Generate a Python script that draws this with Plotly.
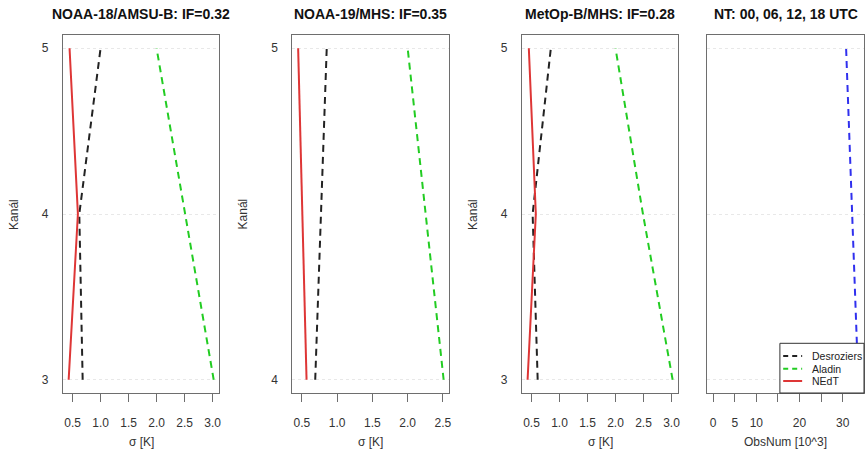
import plotly.graph_objects as go

W, H = 867, 452

# ---- data ----
titles = ["NOAA-18/AMSU-B: IF=0.32", "NOAA-19/MHS: IF=0.35", "MetOp-B/MHS: IF=0.28", "NT: 00, 06, 12, 18 UTC"]
ch_amsub = [3, 4, 5]
ch_mhs19 = [4, 5]
ch_metop = [3, 4, 5]

n18_desroziers = [0.68, 0.62, 1.00]
n18_aladin = [3.02, 2.51, 2.00]
n18_nedt = [0.43, 0.595, 0.446]

n19_desroziers = [0.69, 0.853]
n19_aladin = [2.51, 2.00]
n19_nedt = [0.567, 0.448]

mb_desroziers = [0.61, 0.52, 0.845]
mb_aladin = [3.02, 2.49, 2.00]
mb_nedt = [0.43, 0.577, 0.452]

obs_channels = [3, 4, 5]
obs_num = [33.6, 32.2, 30.8]

sigma_ticks = [0.5, 1.0, 1.5, 2.0, 2.5, 3.0]
obs_ticks = [0, 5, 10, 15, 20, 25, 30, 35]
obs_ticktext = ["0", "5", "10", "", "20", "", "30", ""]

series_names = ["Desroziers", "Aladin", "NEdT"]

# ---- styles ----
FONT = "Liberation Sans, Arial, Helvetica, sans-serif"
C_BLACK = "#222222"
C_GREEN = "#22cc22"
C_RED = "#de3636"
C_BLUE = "#3030ee"
DASH = "7px,5px"
BOX = "#6e6e6e"
series_colors = [C_BLACK, C_GREEN, C_RED]
series_dash = [DASH, DASH, "solid"]

# panel pixel boxes (left, right) and vertical extent
panels_px = [(63, 220), (293, 450.5), (523, 680), (709, 866)]
top_px, bot_px = 35, 393


def ext(vals, lo=None):
    mn = min(vals) if lo is None else lo
    mx = max(vals)
    d = (mx - mn) * 0.04
    return [mn - d, mx + d]


fig = go.Figure()

datasets = [
    (ch_amsub, n18_desroziers, n18_aladin, n18_nedt),
    (ch_mhs19, n19_desroziers, n19_aladin, n19_nedt),
    (ch_metop, mb_desroziers, mb_aladin, mb_nedt),
]

for i, (ch, de, al, ne) in enumerate(datasets):
    xa = "x" if i == 0 else f"x{i+1}"
    ya = "y" if i == 0 else f"y{i+1}"
    for k, vals in enumerate([de, al, ne]):
        fig.add_trace(go.Scatter(x=vals, y=ch, mode="lines", name=series_names[k], xaxis=xa, yaxis=ya,
                                 line=dict(color=series_colors[k], width=2, dash=series_dash[k]),
                                 showlegend=False))

fig.add_trace(go.Scatter(x=obs_num, y=obs_channels, mode="lines", name="ObsNum", xaxis="x4", yaxis="y4",
                         line=dict(color=C_BLUE, width=2, dash=DASH), showlegend=False))

ydom = [1 - bot_px / H, 1 - top_px / H]
layout = dict(
    width=W, height=H,
    margin=dict(l=0, r=0, t=0, b=0),
    paper_bgcolor="white", plot_bgcolor="white",
    font=dict(family=FONT, size=12, color="#333333"),
    showlegend=False,
)

ch_lists = [ch_amsub, ch_mhs19, ch_metop, obs_channels]
x_lists = [n18_desroziers + n18_aladin + n18_nedt,
           n19_desroziers + n19_aladin + n19_nedt,
           mb_desroziers + mb_aladin + mb_nedt]

for i in range(4):
    l, r = panels_px[i]
    sx = "" if i == 0 else str(i + 1)
    if i < 3:
        xr = ext(x_lists[i])
        xt = dict(tickvals=sigma_ticks, ticktext=[f"{v:.1f}" for v in sigma_ticks])
    else:
        xr = ext(obs_num, lo=0)
        xt = dict(tickvals=obs_ticks, ticktext=obs_ticktext)
    layout["xaxis" + sx] = dict(
        domain=[l / W, r / W], anchor="y" + sx, range=xr,
        showline=True, linecolor=BOX, linewidth=1, mirror=True,
        ticks="outside", ticklen=8, tickcolor=BOX, tickwidth=1,
        showgrid=False, zeroline=False, ticklabelstandoff=11,
        tickfont=dict(size=12, color="#333333"), **xt)
    yr = ext(ch_lists[i])
    layout["yaxis" + sx] = dict(
        domain=ydom, anchor="x" + sx, range=yr,
        showline=True, linecolor=BOX, linewidth=1, mirror=True,
        ticks="", tickvals=ch_lists[i], showticklabels=(i < 3),
        showgrid=True, gridcolor="#e8e8e8", griddash="dot", gridwidth=1,
        zeroline=False, ticklabelstandoff=11,
        tickfont=dict(size=12, color="#333333"))

fig.update_layout(**layout)

annotations = []
for i in range(4):
    l, r = panels_px[i]
    cx = (l + r) / 2 / W
    annotations.append(dict(text=f"<b>{titles[i]}</b>", x=cx, y=1 - 14 / H, xref="paper", yref="paper",
                            xanchor="center", yanchor="middle", showarrow=False,
                            font=dict(size=14, color="#111111", family=FONT)))
    annotations.append(dict(text=("σ [K]" if i < 3 else "ObsNum [10^3]"), x=cx, y=1 - 442 / H,
                            xref="paper", yref="paper", xanchor="center", yanchor="middle",
                            showarrow=False, font=dict(size=12, color="#333333", family=FONT)))
    if i < 3:
        annotations.append(dict(text="Kanál", x=(l - 49) / W, y=1 - 214 / H, xref="paper", yref="paper",
                                xanchor="center", yanchor="middle", textangle=-90, showarrow=False,
                                font=dict(size=12, color="#333333", family=FONT)))

# legend box (bottom-right of last panel), R-style
leg_l, leg_r, leg_t, leg_b = 781.7, 866, 343.3, 393
shapes = [dict(type="rect", xref="paper", yref="paper", x0=leg_l / W, x1=leg_r / W,
               y0=1 - leg_b / H, y1=1 - leg_t / H, line=dict(color="#333333", width=1),
               fillcolor="white", layer="above")]
row_y = [356, 368.7, 381]
for k in range(3):
    shapes.append(dict(type="line", xref="paper", yref="paper", x0=785 / W, x1=804 / W,
                       y0=1 - row_y[k] / H, y1=1 - row_y[k] / H, layer="above",
                       line=dict(color=series_colors[k], width=2,
                                 dash=("5px,4px" if series_dash[k] != "solid" else "solid"))))
    annotations.append(dict(text=series_names[k], x=812 / W, y=1 - row_y[k] / H, xref="paper", yref="paper",
                            xanchor="left", yanchor="middle", showarrow=False,
                            font=dict(size=10.5, color="#222222", family=FONT)))
fig.update_layout(annotations=annotations, shapes=shapes)

fig.write_html("out.html", config={"displayModeBar": False},
               post_script="document.body.style.margin='0';document.body.style.overflow='hidden';")
